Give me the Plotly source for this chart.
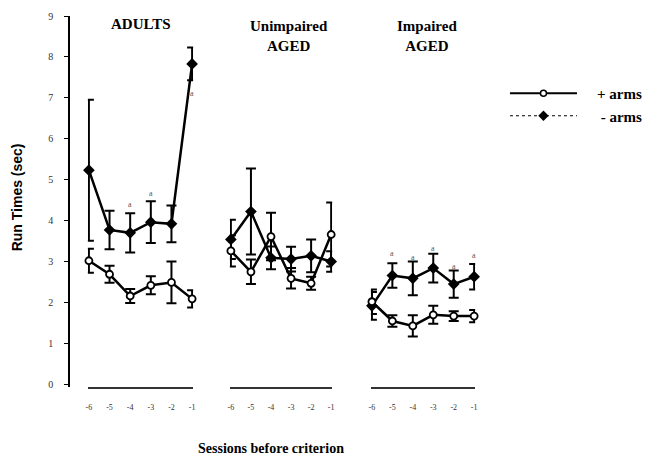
import plotly.graph_objects as go

# Sessions before reaching criterion
sessions = [-6, -5, -4, -3, -2, -1]
session_labels = ["-6", "-5", "-4", "-3", "-2", "-1"]

# Mean run times (sec) and SEM, "+ arms" condition
adults_plus = [3.03, 2.70, 2.17, 2.43, 2.50, 2.10]
adults_plus_err = [0.29, 0.21, 0.17, 0.22, 0.51, 0.21]
unimp_plus = [3.27, 2.76, 3.62, 2.60, 2.48, 3.67]
unimp_plus_err = [0.38, 0.30, 0.58, 0.25, 0.16, 0.78]
imp_plus = [2.03, 1.56, 1.44, 1.71, 1.68, 1.68]
imp_plus_err = [0.30, 0.14, 0.26, 0.22, 0.12, 0.15]

# Mean run times (sec) and SEM, "- arms" condition
adults_minus = [5.24, 3.78, 3.71, 3.97, 3.93, 7.83]
adults_minus_err = [1.72, 0.47, 0.48, 0.51, 0.45, 0.40]
unimp_minus = [3.55, 4.23, 3.10, 3.07, 3.15, 3.01]
unimp_minus_err = [0.48, 1.05, 0.28, 0.30, 0.40, 0.25]
imp_minus = [1.93, 2.67, 2.60, 2.85, 2.46, 2.64]
imp_minus_err = [0.34, 0.30, 0.41, 0.35, 0.33, 0.31]

# Significance marks (session, height)
adults_sig_x = [-4, -3, -1]
adults_sig_y = [4.39, 4.68, 7.10]
imp_sig_x = [-5, -4, -3, -2, -1]
imp_sig_y = [3.20, 3.10, 3.34, 2.90, 3.17]

y_ticks = [0, 1, 2, 3, 4, 5, 6, 7, 8, 9]

panel_titles = ["<b>ADULTS</b>", "<b>Unimpaired<br>AGED</b>", "<b>Impaired<br>AGED</b>"]

SERIF = "Liberation Serif, Times New Roman, serif"
SANS = "Liberation Sans, Arial, sans-serif"

# plot-area geometry in pixels
W, H = 650, 464
L, R, T, B = 69, 648, 16, 387


def fx(px):
    return (px - L) / (R - L)


def fy(py):
    return (B - py) / (B - T)


fig = go.Figure()

panels = [
    ("x", adults_plus, adults_plus_err, adults_minus, adults_minus_err),
    ("x2", unimp_plus, unimp_plus_err, unimp_minus, unimp_minus_err),
    ("x3", imp_plus, imp_plus_err, imp_minus, imp_minus_err),
]

for xa, p, pe, m, me in panels:
    fig.add_trace(go.Scatter(
        x=sessions, y=m, xaxis=xa, yaxis="y", mode="lines+markers",
        line=dict(color="black", width=2.5),
        marker=dict(symbol="diamond", size=9, color="black"),
        error_y=dict(type="data", array=me, visible=True, color="black",
                     thickness=2, width=5),
        showlegend=False, cliponaxis=False,
    ))
    fig.add_trace(go.Scatter(
        x=sessions, y=p, xaxis=xa, yaxis="y", mode="lines+markers",
        line=dict(color="black", width=2.5),
        marker=dict(symbol="circle", size=7, color="white",
                    line=dict(color="black", width=1.8)),
        error_y=dict(type="data", array=pe, visible=True, color="black",
                     thickness=2, width=5),
        showlegend=False, cliponaxis=False,
    ))

# legend entries
NB = "\u00a0" * 4
fig.add_trace(go.Scatter(
    x=[None], y=[None], mode="lines+markers", name=NB + "<b>+ arms</b>",
    line=dict(color="black", width=2),
    marker=dict(symbol="circle", size=6, color="white",
                line=dict(color="black", width=1.5)),
))
fig.add_trace(go.Scatter(
    x=[None], y=[None], mode="lines+markers", name=NB + "\u00a0<b>- arms</b>",
    line=dict(color="black", width=1.2, dash="dot"),
    marker=dict(symbol="diamond", size=8, color="black"),
))

# significance marks
for sx, sy in zip(adults_sig_x, adults_sig_y):
    fig.add_annotation(x=sx, y=sy, xref="x", yref="y", text="a",
                       showarrow=False, font=dict(family=SERIF, size=8, color="#555"))
for sx, sy in zip(imp_sig_x, imp_sig_y):
    fig.add_annotation(x=sx, y=sy, xref="x3", yref="y", text="a",
                       showarrow=False, font=dict(family=SERIF, size=8, color="#555"))

# panel titles
title_pos = [(141, 24), (291, 36), (429, 36)]
for txt, (px, py) in zip(panel_titles, title_pos):
    fig.add_annotation(x=fx(px), y=fy(py), xref="paper", yref="paper", text=txt,
                       showarrow=False,
                       font=dict(family=SERIF, size=15, color="black"),
                       xanchor="center", yanchor="middle")

# axis titles
fig.add_annotation(x=fx(17), y=fy(197), xref="paper", yref="paper",
                   text="<b>Run Times (sec)</b>", textangle=-90, showarrow=False,
                   font=dict(family=SANS, size=14, color="black"),
                   xanchor="center", yanchor="middle")
fig.add_annotation(x=fx(272), y=fy(448), xref="paper", yref="paper",
                   text="<b>Sessions before criterion</b>", showarrow=False,
                   font=dict(family=SERIF, size=14, color="black"),
                   xanchor="center", yanchor="middle")

xcommon = dict(range=[-6.05, -0.95], showline=True, linecolor="#333", linewidth=1.5,
               showgrid=False, zeroline=False, ticks="", tickvals=sessions,
               ticktext=session_labels, ticklabelstandoff=12,
               tickfont=dict(family=SERIF, size=8, color="#333"), anchor="y",
               fixedrange=True)

fig.update_layout(
    width=W, height=H,
    margin=dict(l=L, r=W - R, t=T, b=H - B, pad=0),
    paper_bgcolor="white", plot_bgcolor="white",
    xaxis=dict(domain=[fx(88), fx(194)], **xcommon),
    xaxis2=dict(domain=[fx(231), fx(334)], **xcommon),
    xaxis3=dict(domain=[fx(373), fx(478)], **xcommon),
    yaxis=dict(range=[-0.05, 9], showline=True, linecolor="black", linewidth=1.5,
               showgrid=False, zeroline=False, ticks="outside", ticklen=4,
               tickwidth=1.2, tickcolor="black", tickvals=y_ticks,
               ticklabelstandoff=9,
               tickfont=dict(family=SERIF, size=10, color="#333"),
               anchor="free", position=0, fixedrange=True),
    legend=dict(x=fx(508), y=fy(77), xanchor="left", yanchor="top",
                font=dict(family=SERIF, size=15, color="black"),
                itemwidth=67, bgcolor="rgba(0,0,0,0)", tracegroupgap=0),
    showlegend=True,
)

fig.write_html("out.html")
